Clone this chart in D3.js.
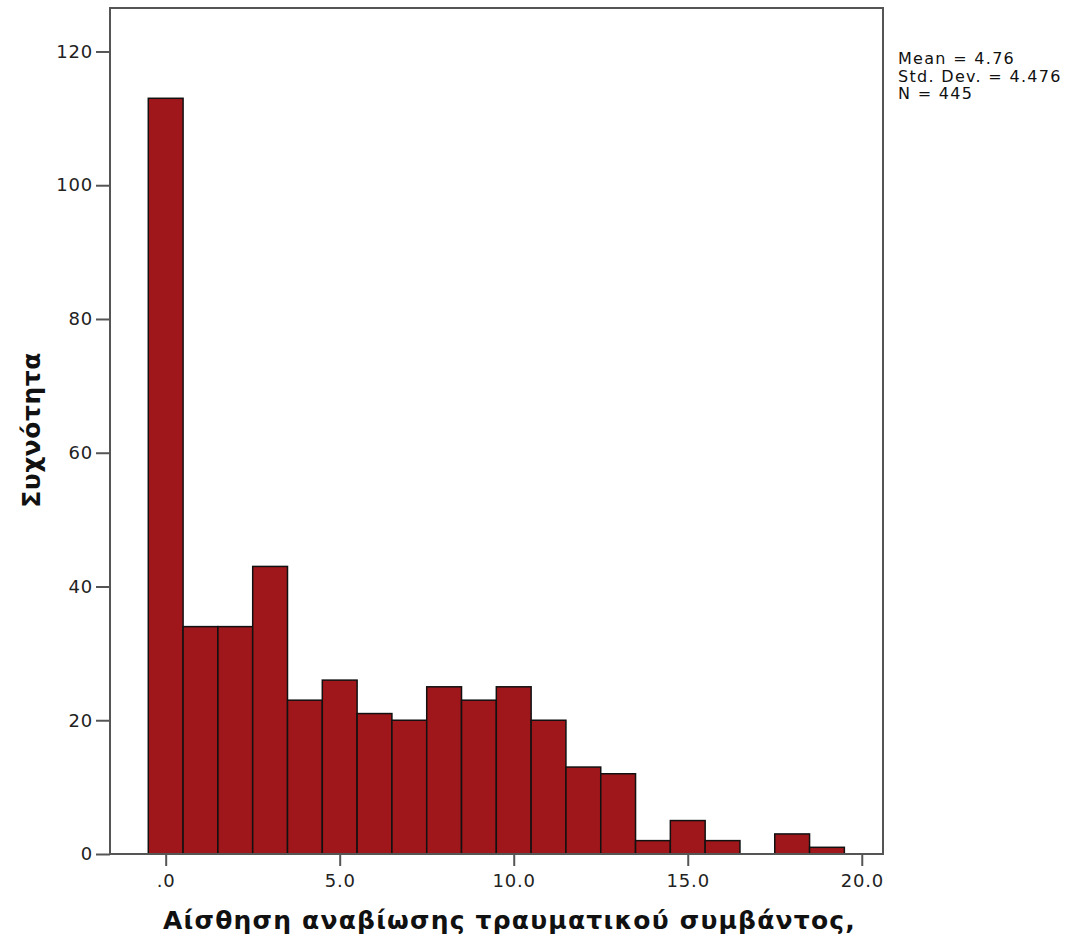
<!DOCTYPE html>
<html>
<head>
<meta charset="utf-8">
<script src="https://cdn.jsdelivr.net/npm/d3@7"></script>
<style>
body { margin: 0; background: #fff; }
text { font-family: "DejaVu Sans", sans-serif; }
</style>
</head>
<body>
<div id="container"></div>
<script>
var width = 1079,
    height = 941;

// histogram bins (value centres) and counts
var binCentres = [0, 1, 2, 3, 4, 5, 6, 7, 8, 9, 10, 11, 12, 13, 14, 15, 16, 17, 18, 19];
var counts = [113, 34, 34, 43, 23, 26, 21, 20, 25, 23, 25, 20, 13, 12, 2, 5, 2, 0, 3, 1];
var xTicks = [0, 5, 10, 15, 20];
var yTicks = [0, 20, 40, 60, 80, 100, 120];
var statsLines = ["Mean = 4.76", "Std. Dev. = 4.476", "N = 445"];
var xTitle = "Αίσθηση αναβίωσης τραυματικού συμβάντος,";
var yTitle = "Συχνότητα";

var plot = { left: 110, top: 8, right: 883, bottom: 854 };

var svg = d3.select("#container").append("svg")
    .attr("width", width)
    .attr("height", height);

var x = d3.scaleLinear()
    .domain([-1.6, 20.61])
    .range([plot.left, plot.right]);

var y = d3.scaleLinear()
    .domain([0, 126.5])
    .range([plot.bottom, plot.top]);

// bars
svg.selectAll(".bar")
    .data(binCentres)
    .enter().append("rect")
    .attr("class", "bar")
    .attr("x", d => x(d - 0.5))
    .attr("y", (d, i) => y(counts[i]))
    .attr("width", d => x(d + 0.5) - x(d - 0.5))
    .attr("height", (d, i) => y(0) - y(counts[i]))
    .attr("fill", (d, i) => counts[i] > 0 ? "#a0171b" : "none")
    .attr("stroke", (d, i) => counts[i] > 0 ? "#111" : "none")
    .attr("stroke-width", 1.5);

// frame
svg.append("rect")
    .attr("x", plot.left)
    .attr("y", plot.top)
    .attr("width", plot.right - plot.left)
    .attr("height", plot.bottom - plot.top)
    .attr("fill", "none")
    .attr("stroke", "#555")
    .attr("stroke-width", 2);

// y axis
var yAxis = svg.append("g")
    .attr("transform", "translate(" + plot.left + ",0)")
    .call(d3.axisLeft(y).tickValues(yTicks).tickSize(14).tickPadding(3).tickFormat(d3.format("d")));
yAxis.select(".domain").remove();
yAxis.selectAll("line").attr("stroke", "#555").attr("stroke-width", 2);
yAxis.selectAll("text").attr("font-size", 18).attr("fill", "#222")
    .attr("letter-spacing", 0.8)
    .style("font-family", "DejaVu Sans, sans-serif");

// x axis
var xAxis = svg.append("g")
    .attr("transform", "translate(0," + plot.bottom + ")")
    .call(d3.axisBottom(x).tickValues(xTicks).tickSize(12).tickPadding(8)
        .tickFormat(d => d === 0 ? ".0" : d3.format(".1f")(d)));
xAxis.select(".domain").remove();
xAxis.selectAll("line").attr("stroke", "#555").attr("stroke-width", 2);
xAxis.selectAll("text").attr("font-size", 18).attr("fill", "#222")
    .attr("letter-spacing", 0.8)
    .style("font-family", "DejaVu Sans, sans-serif");

// titles
svg.append("text")
    .attr("x", (plot.left + plot.right) / 2 + 13)
    .attr("y", 929)
    .attr("text-anchor", "middle")
    .attr("font-size", 25)
    .attr("font-weight", "bold")
    .attr("letter-spacing", 1.2)
    .attr("fill", "#111")
    .text(xTitle);

svg.append("text")
    .attr("transform", "translate(40,430) rotate(-90)")
    .attr("text-anchor", "middle")
    .attr("font-size", 25)
    .attr("font-weight", "bold")
    .attr("letter-spacing", 0.5)
    .attr("fill", "#111")
    .text(yTitle);

// stats box
svg.selectAll(".stat")
    .data(statsLines)
    .enter().append("text")
    .attr("class", "stat")
    .attr("x", 898)
    .attr("y", (d, i) => 64 + i * 17.5)
    .attr("font-size", 16)
    .attr("letter-spacing", 1.3)
    .attr("fill", "#111")
    .text(d => d);
</script>
</body>
</html>
